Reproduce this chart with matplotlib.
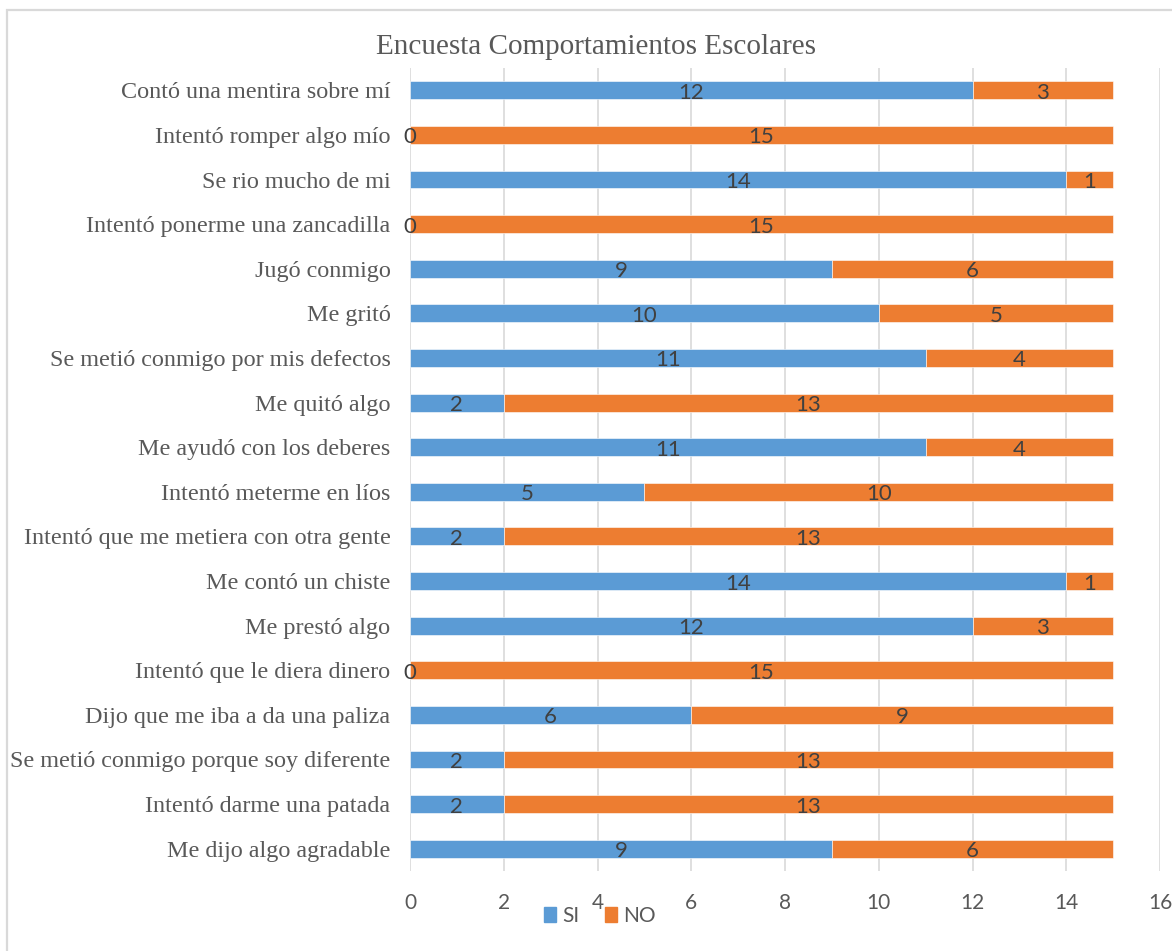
import matplotlib
matplotlib.use("Agg")
import matplotlib.pyplot as plt
from matplotlib.patches import Rectangle, Patch

categories = [
    "Contó una mentira sobre mí",
    "Intentó romper algo mío",
    "Se rio mucho de mi",
    "Intentó ponerme una zancadilla",
    "Jugó conmigo",
    "Me gritó",
    "Se metió conmigo por mis defectos",
    "Me quitó algo",
    "Me ayudó con los deberes",
    "Intentó meterme en líos",
    "Intentó que me metiera con otra gente",
    "Me contó un chiste",
    "Me prestó algo",
    "Intentó que le diera dinero",
    "Dijo que me iba a da una paliza",
    "Se metió conmigo porque soy diferente",
    "Intentó darme una patada",
    "Me dijo algo agradable",
]
si = [12, 0, 14, 0, 9, 10, 11, 2, 11, 5, 2, 14, 12, 0, 6, 2, 2, 9]
no = [3, 15, 1, 15, 6, 5, 4, 13, 4, 10, 13, 1, 3, 15, 9, 13, 13, 6]
xticks = [0, 2, 4, 6, 8, 10, 12, 14, 16]
title = "Encuesta Comportamientos Escolares"

BLUE = "#5B9BD5"
ORANGE = "#ED7D31"
SERIF = ["Liberation Serif", "DejaVu Serif"]
SANS = ["Lato", "DejaVu Sans"]

fig = plt.figure(figsize=(11.72, 9.51), dpi=100)
fig.patch.set_facecolor("white")

# chart border (light gray)
border = Rectangle((7 / 1172, -0.05), 1.2, 1 - 10 / 951 + 0.05, transform=fig.transFigure,
                   fill=False, edgecolor="#D9D9D9", linewidth=1.6, zorder=0)
fig.patches.append(border)

ax = fig.add_axes([410 / 1172, 1 - 871 / 951, (1160 - 410) / 1172, (871 - 68) / 951])
n = len(categories)
ypos = list(range(n))[::-1]
h = 0.4
ax.barh(ypos, si, height=h, color=BLUE, edgecolor="white", linewidth=0.4, zorder=3)
ax.barh(ypos, no, left=si, height=h, color=ORANGE, edgecolor="white", linewidth=0.4, zorder=3)

for y, s, o in zip(ypos, si, no):
    ax.text(s / 2, y - 0.19, str(s), ha="center", va="baseline", fontsize=16,
            color="#404040", family=SANS, zorder=4)
    ax.text(s + o / 2, y - 0.19, str(o), ha="center", va="baseline", fontsize=16,
            color="#404040", family=SANS, zorder=4)

ax.set_xlim(0, 16)
ax.set_ylim(-0.5, n - 0.5)
ax.set_xticks(xticks)
ax.set_xticklabels([str(t) for t in xticks], family=SANS, fontsize=15, color="#595959")
ax.set_yticks(ypos)
ax.set_yticklabels(categories, family=SERIF, fontsize=17.4, color="#595959")
ax.tick_params(axis="x", length=0, pad=16)
ax.tick_params(axis="y", length=0, pad=14)
ax.grid(axis="x", color="#D9D9D9", linewidth=1.2, zorder=0)
ax.set_axisbelow(True)
for sp in ax.spines.values():
    sp.set_visible(False)

fig.text(596 / 1172, 1 - 47 / 951, title, ha="center", va="center",
         family=SERIF, fontsize=21, color="#595959")

handles = [Patch(facecolor=BLUE, edgecolor=BLUE), Patch(facecolor=ORANGE, edgecolor=ORANGE)]
fig.legend(handles, ["SI", "NO"], loc="center", bbox_to_anchor=(600 / 1172, 1 - 916 / 951),
           ncol=2, frameon=False, prop={"family": SANS, "size": 15},
           handlelength=0.6, handleheight=0.7, handletextpad=0.3, columnspacing=1.2,
           labelcolor="#595959")

fig.savefig("out.png", dpi=100)
